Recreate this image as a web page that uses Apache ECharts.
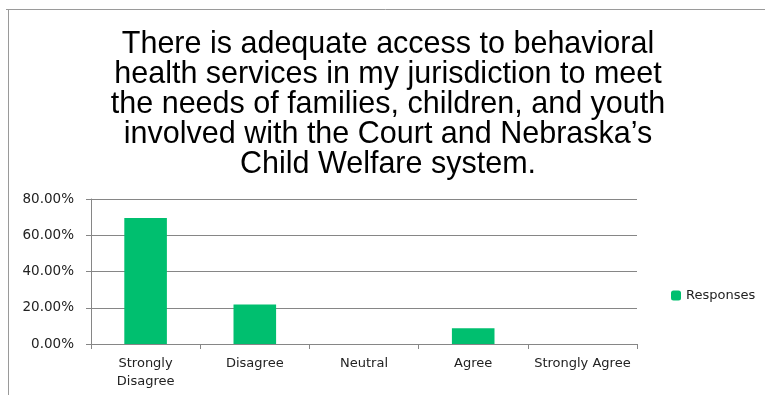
<!doctype html>
<html>
<head>
<meta charset="utf-8">
<title>Behavioral health access</title>
<script src="https://cdn.jsdelivr.net/npm/echarts@6/dist/echarts.min.js"></script>
<style>
  html, body { margin: 0; padding: 0; background: #fff; }
  #main { width: 765px; height: 395px; }
</style>
</head>
<body>
<div id="main"></div>
<script>
// data
var titleLines = [
  'There is adequate access to behavioral',
  'health services in my jurisdiction to meet',
  'the needs of families, children, and youth',
  'involved with the Court and Nebraska\u2019s',
  'Child Welfare system.'
];
var categories = ['Strongly Disagree', 'Disagree', 'Neutral', 'Agree', 'Strongly Agree'];
var responses = [69.57, 21.74, 0, 8.70, 0];
var seriesName = 'Responses';

var labelFont = 'DejaVu Sans';
var myChart = echarts.init(document.getElementById('main'));
var option = {
  backgroundColor: '#fff',
  animation: false,
  graphic: [
    // frame of the slide (top and left edges only visible)
    { type: 'line', shape: { x1: 6, y1: 9.5, x2: 765, y2: 9.5 }, style: { stroke: '#9a9a9a', lineWidth: 1 } },
    { type: 'line', shape: { x1: 8.5, y1: 9, x2: 8.5, y2: 395 }, style: { stroke: '#9a9a9a', lineWidth: 1 } }
  ],
  title: {
    text: titleLines.join('\n'),
    left: 383,
    top: 25,
    textAlign: 'center',
    textStyle: {
      fontFamily: 'Liberation Sans, Arial, sans-serif',
      fontSize: 30.5,
      fontWeight: 'normal',
      color: '#000',
      lineHeight: 30
    }
  },
  legend: {
    data: [seriesName],
    left: 666,
    top: 284,
    itemWidth: 10,
    itemHeight: 10,
    itemGap: 4,
    textStyle: { fontFamily: labelFont, fontSize: 13, color: '#222' }
  },
  grid: { left: 91, right: 128, top: 199, bottom: 51, containLabel: false },
  xAxis: {
    type: 'category',
    data: categories,
    axisLine: { lineStyle: { color: '#868686' } },
    axisTick: { show: true, length: 5, lineStyle: { color: '#868686' } },
    axisLabel: {
      interval: 0,
      margin: 11,
      fontFamily: labelFont,
      fontSize: 13,
      color: '#222',
      lineHeight: 18,
      formatter: function (v) { return v === 'Strongly Disagree' ? 'Strongly\nDisagree' : v; }
    }
  },
  yAxis: {
    type: 'value',
    min: 0,
    max: 80,
    interval: 20,
    axisLine: { show: true, lineStyle: { color: '#868686' } },
    axisTick: { show: true, length: 5, lineStyle: { color: '#868686' } },
    splitLine: { lineStyle: { color: '#868686' } },
    axisLabel: {
      margin: 17,
      fontFamily: labelFont,
      fontSize: 13.5,
      color: '#222',
      formatter: function (v) { return v.toFixed(2) + '%'; }
    }
  },
  series: [{
    name: seriesName,
    type: 'bar',
    data: responses,
    barWidth: '39%',
    itemStyle: { color: '#00bf6f' }
  }]
};
myChart.setOption(option);
</script>
</body>
</html>
